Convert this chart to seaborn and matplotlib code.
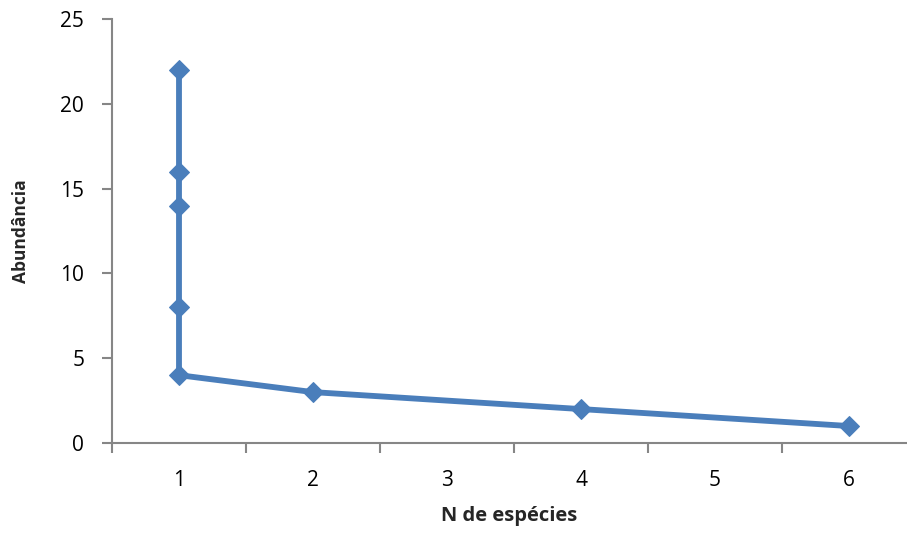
import matplotlib
matplotlib.use("Agg")
import matplotlib.pyplot as plt
import seaborn as sns
import pandas as pd
from matplotlib.ticker import FixedLocator

n_especies = [1, 1, 1, 1, 1, 2, 4, 6]
abundancia = [22, 16, 14, 8, 4, 3, 2, 1]
x_ticks = [1, 2, 3, 4, 5, 6]
y_ticks = [0, 5, 10, 15, 20, 25]

df = pd.DataFrame({"N de espécies": n_especies, "Abundância": abundancia})

sns.set_style("white")
plt.rcParams['font.family'] = ['Open Sans', 'DejaVu Sans']

fig = plt.figure(figsize=(9.07, 5.33), dpi=100)
ax = fig.add_axes([112/907, 90/533, (907-112)/907, 424/533])

color = "#4A7EBB"
sns.lineplot(data=df, x="N de espécies", y="Abundância", sort=False, estimator=None,
             color=color, linewidth=4.2, marker="D", markersize=10,
             markeredgecolor=color, markerfacecolor=color, ax=ax)

ax.set_xlim(0.5, 0.5 + (907-112)/134)
ax.set_ylim(0, 25)
for s in ["top", "right"]:
    ax.spines[s].set_visible(False)
for s in ["left", "bottom"]:
    ax.spines[s].set_color("#868686")
    ax.spines[s].set_linewidth(1.5)

ax.set_xticks(x_ticks)
ax.xaxis.set_minor_locator(FixedLocator([0.5, 1.5, 2.5, 3.5, 4.5, 5.5, 6.5]))
ax.tick_params(axis="x", which="major", length=0, pad=19.5, labelsize=15, labelcolor="black")
ax.tick_params(axis="x", which="minor", length=7, width=1.5, color="#868686", direction="out", bottom=True)
ax.set_yticks(y_ticks)
ax.tick_params(axis="y", which="major", length=7, width=1.5, color="#868686", direction="out",
               left=True, labelsize=15, pad=13, labelcolor="black")

ax.set_xlabel("N de espécies", fontsize=14.5, fontweight="bold", labelpad=11)
ax.set_ylabel("Abundância", fontsize=12.5, fontweight="bold", labelpad=22)
ax.grid(False)

fig.savefig("out.png", dpi=100)
